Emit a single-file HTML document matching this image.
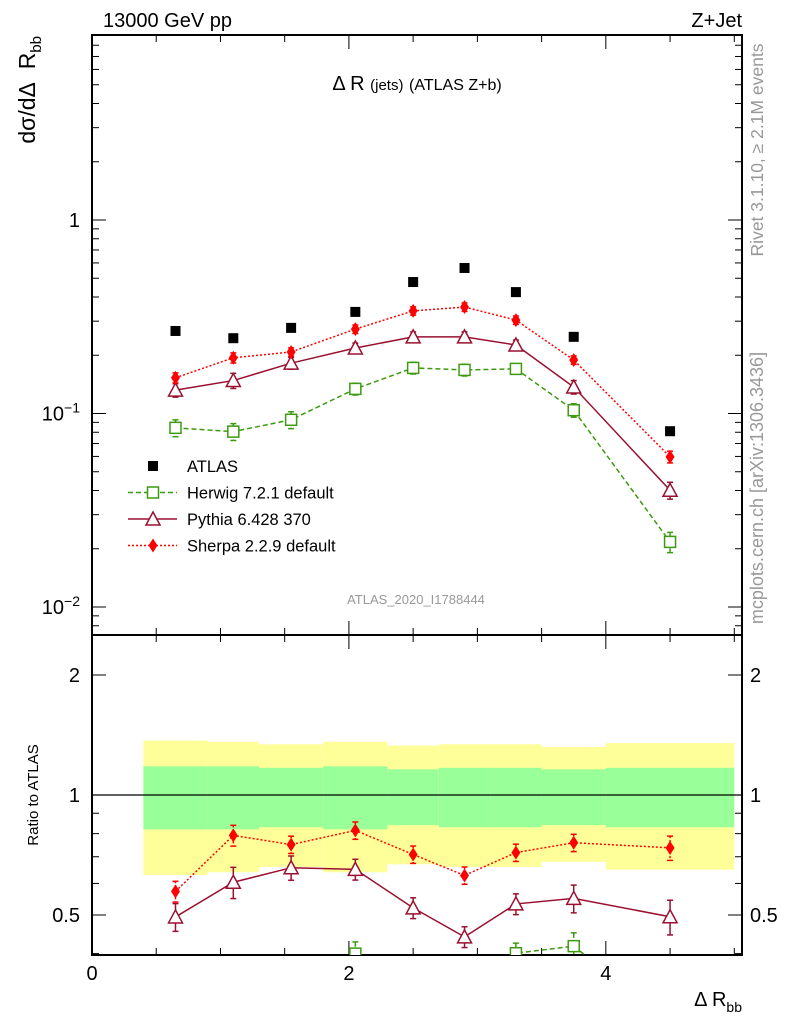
<!DOCTYPE html>
<html><head><meta charset="utf-8"><style>
body{margin:0;background:#fff}
svg{display:block;font-family:"Liberation Sans",sans-serif}
</style></head><body>
<svg id="c" width="786" height="1024" viewBox="0 0 786 1024"></svg>
<script>
const binEdges=[0.4,0.9,1.3,1.8,2.3,2.7,3.1,3.5,4.0,5.0];
const xCenters=[0.65,1.1,1.55,2.05,2.5,2.9,3.3,3.75,4.5];
const atlas=[0.267,0.245,0.277,0.335,0.478,0.565,0.424,0.249,0.081];
const atlasStat=[0.18,0.18,0.17,0.18,0.16,0.17,0.17,0.16,0.17];
const atlasTot=[0.37,0.36,0.34,0.36,0.33,0.34,0.34,0.32,0.35];
const herwig=[0.0843,0.0806,0.0928,0.134,0.172,0.168,0.170,0.104,0.0217];
const herwigErr=[0.1,0.1,0.1,0.07,0.07,0.07,0.06,0.08,0.12];
const pythia=[0.132,0.148,0.182,0.218,0.249,0.249,0.226,0.137,0.0401];
const pythiaErr=[0.08,0.09,0.07,0.06,0.06,0.06,0.06,0.08,0.1];
const sherpa=[0.153,0.194,0.208,0.273,0.339,0.355,0.304,0.189,0.0597];
const sherpaErr=[0.06,0.06,0.05,0.05,0.05,0.05,0.05,0.05,0.07];
const xTicks=[0,2,4];
const ratioTicks=[0.5,1,2];

const NS="http://www.w3.org/2000/svg";
const svg=document.getElementById('c');
const L=92,R=742,T=35,M=635,B=955;
const X0=0,X1=5.06;
const sx=v=>L+(v-X0)/(X1-X0)*(R-L);
const sy=v=>220-Math.log10(v)*193.5;
const ry=v=>795-Math.log10(v)*398.6;
function el(tag,a,parent){const e=document.createElementNS(NS,tag);for(const k in a)e.setAttribute(k,a[k]);(parent||svg).appendChild(e);return e;}
function clipR(id,y0,y1){const cp=el('clipPath',{id:id});el('rect',{x:L,y:y0,width:R-L,height:y1-y0},cp);}
clipR('cm',T,M);clipR('cr',M,B);

const gBand=el('g',{'clip-path':'url(#cr)'});


for(let i=0;i<xCenters.length;i++){
  const x0=sx(binEdges[i]),x1=sx(binEdges[i+1]);
  const y=el('rect',{x:x0,y:ry(1+atlasTot[i]),width:x1-x0,height:ry(1-atlasTot[i])-ry(1+atlasTot[i]),fill:'#ffff99'},gBand);
  
  
  const g=el('rect',{x:x0,y:ry(1+atlasStat[i]),width:x1-x0,height:ry(1-atlasStat[i])-ry(1+atlasStat[i]),fill:'#99ff99'},gBand);
  
  
}
el('line',{x1:L,x2:R,y1:ry(1),y2:ry(1),stroke:'#000','stroke-width':1.3});

el('rect',{x:L,y:T,width:R-L,height:M-T,fill:'none',stroke:'#000','stroke-width':2});
el('rect',{x:L,y:M,width:R-L,height:B-M,fill:'none',stroke:'#000','stroke-width':2});

for(let v=0;v<=5;v+=0.5){
  const x=sx(v),len=(v%2===0)?14:7;
  for(const [y0,y1] of [[T,M],[M,B]]){
    el('line',{x1:x,x2:x,y1:y1,y2:y1-len,stroke:'#000'});
    el('line',{x1:x,x2:x,y1:y0,y2:y0+len,stroke:'#000'});
  }
}
xTicks.forEach(v=>{const t=el('text',{x:sx(v),y:980,'font-size':20,'text-anchor':'middle'});t.textContent=v;
});

for(let e=-3;e<=0;e++)for(let k=1;k<=9;k++){
  const v=k*Math.pow(10,e),y=sy(v);if(y<T||y>M)continue;
  const len=k===1?14:7;
  el('line',{x1:L,x2:L+len,y1:y,y2:y,stroke:'#000'});
  el('line',{x1:R,x2:R-len,y1:y,y2:y,stroke:'#000'});
}
function ylab(html,y,name){const t=el('text',{x:80,y:y+7,'font-size':20,'text-anchor':'end'});t.innerHTML=html;
}
ylab('1',sy(1),'y-tick-1');
ylab('10<tspan dy="-8" font-size="14">−1</tspan>',sy(0.1),'y-tick-0.1');
ylab('10<tspan dy="-8" font-size="14">−2</tspan>',sy(0.01),'y-tick-0.01');

[0.4,0.5,0.6,0.7,0.8,0.9,1,2].forEach(v=>{
  const y=ry(v);const len=(v===0.5||v===1||v===2)?14:7;
  el('line',{x1:L,x2:L+len,y1:y,y2:y,stroke:'#000'});
  el('line',{x1:R,x2:R-len,y1:y,y2:y,stroke:'#000'});
});
ratioTicks.forEach(v=>{
  const a=el('text',{x:80,y:ry(v)+7,'font-size':20,'text-anchor':'end'});a.textContent=v;
  
  const b=el('text',{x:750,y:ry(v)+7,'font-size':20});b.textContent=v;
  
});

function marker(kind,x,y,col,parent){
  if(kind==='sq')return el('rect',{x:x-5,y:y-5,width:10,height:10,fill:'#000'},parent);
  if(kind==='osq')return el('rect',{x:x-5.5,y:y-5.5,width:11,height:11,fill:'#fff',stroke:col,'stroke-width':1.5},parent);
  if(kind==='tri')return el('polygon',{points:`${x},${y-7} ${x-7},${y+6} ${x+7},${y+6}`,fill:'#fff',stroke:col,'stroke-width':1.5},parent);
  if(kind==='dia')return el('polygon',{points:`${x},${y-7} ${x-4.5},${y} ${x},${y+7} ${x+4.5},${y}`,fill:col},parent);
}
function series(vals,errs,col,kind,dash,name,ratio){
  const clip=ratio?'url(#cr)':'url(#cm)';
  const g=el('g',{'clip-path':clip});
  
  
  const Y=ratio?(i=>ry(vals[i]/atlas[i])):(i=>sy(vals[i]));
  const Ye=(i,s)=>ratio?ry(vals[i]*(1+s*errs[i])/atlas[i]):sy(vals[i]*(1+s*errs[i]));
  if(dash!==null){
    const pts=vals.map((v,i)=>`${sx(xCenters[i])},${Y(i)}`).join(' ');
    el('polyline',{points:pts,fill:'none',stroke:col,'stroke-width':1.5,'stroke-dasharray':dash},g);
  }
  vals.forEach((v,i)=>{
    const x=sx(xCenters[i]);
    if(errs){
      el('line',{x1:x,x2:x,y1:Ye(i,1),y2:Ye(i,-1),stroke:col,'stroke-width':1.5,'stroke-dasharray':dash||''},g);
      el('line',{x1:x-3,x2:x+3,y1:Ye(i,1),y2:Ye(i,1),stroke:col,'stroke-width':1.5},g);
      el('line',{x1:x-3,x2:x+3,y1:Ye(i,-1),y2:Ye(i,-1),stroke:col,'stroke-width':1.5},g);
    }
    const m=marker(kind,x,Y(i),col,g);
    
    
  });
}
const HC='#3d9a10',PC='#9a1030',SC='#ff0000';
series(herwig,herwigErr,HC,'osq','5,3','herwig',false);
series(pythia,pythiaErr,PC,'tri','','pythia',false);
series(sherpa,sherpaErr,SC,'dia','2,2','sherpa',false);
series(atlas,null,'#000','sq',null,'atlas',false);
series(herwig,herwigErr,HC,'osq','5,3','herwig',true);
series(pythia,pythiaErr,PC,'tri','','pythia',true);
series(sherpa,sherpaErr,SC,'dia','2,2','sherpa',true);

const lg=el('g',{});


const rows=[['ATLAS','sq','#000',null],['Herwig 7.2.1 default','osq',HC,'5,3'],['Pythia 6.428 370','tri',PC,''],['Sherpa 2.2.9 default','dia',SC,'2,2']];
rows.forEach((r,i)=>{
  const y=466+i*26.5;
  const g=el('g',{},lg);
  
  
  if(r[3]!==null)el('line',{x1:128,x2:177,y1:y,y2:y,stroke:r[2],'stroke-width':1.5,'stroke-dasharray':r[3]},g);
  marker(r[1],153,y,r[2],g);
  const t=el('text',{x:187,y:y+6,'font-size':16.5},g);t.textContent=r[0];
});

function txt(s,a,name){const t=el('text',a);t.innerHTML=s;return t;}
txt('13000 GeV pp',{x:103,y:27,'font-size':20},'energy-label');
txt('Z+Jet',{x:742,y:27,'font-size':20,'text-anchor':'end'},'process-label');
txt('Δ R <tspan font-size="15">(jets)</tspan> <tspan font-size="16">(ATLAS Z+b)</tspan>',{x:417,y:90,'font-size':20,'text-anchor':'middle'},'plot-title');
txt('ATLAS_2020_I1788444',{x:416,y:604,'font-size':13,fill:'#999','text-anchor':'middle'},'analysis-id');
txt('dσ/dΔ&#160;&#160;R<tspan dy="6" font-size="15">bb</tspan>',{x:0,y:0,'font-size':23,'text-anchor':'end',transform:'translate(35,36) rotate(-90)'},'y-axis-title');
txt('Ratio to ATLAS',{x:0,y:0,'font-size':15,'text-anchor':'middle',transform:'translate(38,795) rotate(-90)'},'ratio-axis-title');
txt('Δ R<tspan dy="6" font-size="14">bb</tspan>',{x:742,y:1006,'font-size':20,'text-anchor':'end'},'x-axis-title');
txt('Rivet 3.1.10, ≥ 2.1M events',{x:0,y:0,'font-size':17.5,fill:'#999','text-anchor':'middle',transform:'translate(763,150) rotate(-90)'},'rivet-label');
txt('mcplots.cern.ch [arXiv:1306.3436]',{x:0,y:0,'font-size':18,fill:'#999','text-anchor':'middle',transform:'translate(763,488) rotate(-90)'},'mcplots-label');
</script>
</body></html>
